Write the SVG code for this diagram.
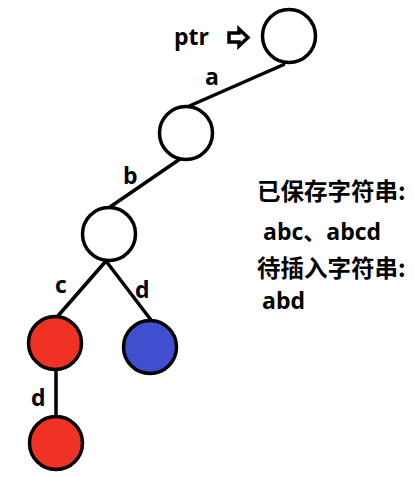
<svg xmlns="http://www.w3.org/2000/svg" width="415" height="477" viewBox="0 0 415 477">
<style>
.n{stroke:#000;stroke-width:3.5}
.e{stroke:#000;stroke-width:3.5;fill:none}
.w{fill:#fff}
.r{fill:#f03224}
.b{fill:#3f4fcf}
.l{font-family:"Open Sans","Noto Sans",sans-serif;font-weight:bold;font-size:23px;fill:#000}
.t{font-family:"Noto Sans CJK SC","Open Sans",sans-serif;font-weight:bold;font-size:23.5px;fill:#000}
.s{font-family:"Open Sans","Noto Sans CJK SC",sans-serif;font-weight:bold;font-size:23px;fill:#000}
</style>
<rect width="415" height="477" fill="#fff"/>
<g id="connectors">
<line class="e" x1="285" y1="64" x2="187" y2="107"/>
<line class="e" x1="180" y1="159" x2="110" y2="207"/>
<line class="e" x1="106" y1="261" x2="57" y2="317"/>
<line class="e" x1="106" y1="261" x2="151" y2="320"/>
<line class="e" x1="56" y1="371" x2="56" y2="416"/>
</g>
<g id="node1"><circle class="n w" cx="289" cy="36" r="26.5"/></g>
<g id="node2"><circle class="n w" cx="186" cy="133" r="26.5"/></g>
<g id="node3"><circle class="n w" cx="109" cy="234" r="26.5"/></g>
<g id="node4"><circle class="n r" cx="55" cy="343" r="26.5"/></g>
<g id="node5"><circle class="n b" cx="150" cy="347" r="26.5"/></g>
<g id="node6"><circle class="n r" cx="56" cy="443" r="26.5"/></g>
<g id="labels">
<text class="l" x="174" y="45">ptr</text>
<path d="M229 33 H239 V29 L248 37.5 L239 46 V42 H229 Z" fill="none" stroke="#000" stroke-width="3.5" stroke-linejoin="miter"/>
<text class="l" x="205" y="85">a</text>
<text class="l" x="123" y="184">b</text>
<text class="l" x="55" y="293">c</text>
<text class="l" x="135" y="298">d</text>
<text class="l" x="31" y="406">d</text>
<text class="t" x="257" y="200">已保存字符串:</text>
<text class="s" x="263" y="240">abc、abcd</text>
<text class="t" x="257" y="277">待插入字符串:</text>
<text class="s" x="262" y="309">abd</text>
</g>
</svg>
